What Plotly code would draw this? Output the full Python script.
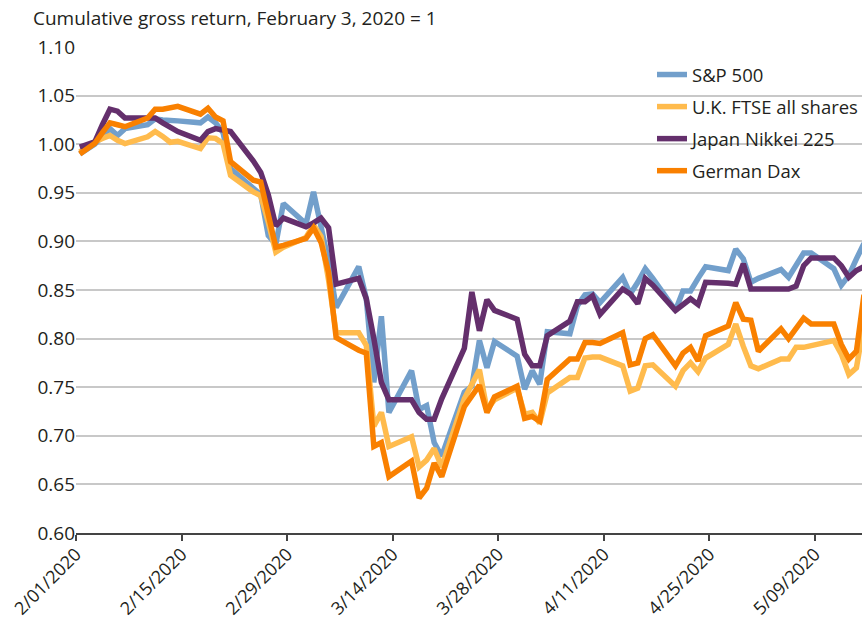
import pandas as pd
import plotly.graph_objects as go

dates = [
    "2020-02-01",
    "2020-02-03", "2020-02-04", "2020-02-05", "2020-02-06", "2020-02-07",
    "2020-02-10", "2020-02-11", "2020-02-12", "2020-02-13", "2020-02-14",
    "2020-02-17", "2020-02-18", "2020-02-19", "2020-02-20", "2020-02-21",
    "2020-02-24", "2020-02-25", "2020-02-26", "2020-02-27", "2020-02-28",
    "2020-03-02", "2020-03-03", "2020-03-04", "2020-03-05", "2020-03-06",
    "2020-03-09", "2020-03-10", "2020-03-11", "2020-03-12", "2020-03-13",
    "2020-03-16", "2020-03-17", "2020-03-18", "2020-03-19", "2020-03-20",
    "2020-03-23", "2020-03-24", "2020-03-25", "2020-03-26", "2020-03-27",
    "2020-03-30", "2020-03-31",
    "2020-04-01", "2020-04-02", "2020-04-03",
    "2020-04-06", "2020-04-07", "2020-04-08", "2020-04-09", "2020-04-10",
    "2020-04-13", "2020-04-14", "2020-04-15", "2020-04-16", "2020-04-17",
    "2020-04-20", "2020-04-21", "2020-04-22", "2020-04-23", "2020-04-24",
    "2020-04-27", "2020-04-28", "2020-04-29", "2020-04-30",
    "2020-05-01",
    "2020-05-04", "2020-05-05", "2020-05-06", "2020-05-07", "2020-05-08",
    "2020-05-11", "2020-05-12", "2020-05-13", "2020-05-14", "2020-05-15",
]

sp500 = [
    0.990, 1.000, 1.008, 1.016, 1.009, 1.016, 1.020, 1.026, 1.025, 1.025, 1.024,
    1.022, 1.028, 1.022, 1.012, 0.975, 0.955, 0.948, 0.906, 0.897, 0.939,
    0.918, 0.951, 0.916, 0.879, 0.832, 0.874, 0.841, 0.755, 0.823, 0.724,
    0.767, 0.727, 0.731, 0.693, 0.679, 0.745, 0.751, 0.798, 0.770, 0.797,
    0.782, 0.748,
    0.767, 0.753, 0.807, 0.805, 0.834, 0.845, 0.846, 0.837, 0.863, 0.846,
    0.858, 0.872, 0.862, 0.829, 0.849, 0.849, 0.862, 0.874, 0.870, 0.892,
    0.882, 0.858,
    0.862, 0.871, 0.863, 0.876, 0.888, 0.888, 0.872, 0.855, 0.865, 0.882, 0.898,
]

ftse = [
    0.992, 1.0025, 1.006, 1.009, 1.004, 1.0007, 1.0076, 1.013, 1.008, 1.002, 1.003,
    0.9955, 1.0066, 1.006, 1.0007, 0.968, 0.951, 0.947, 0.920, 0.889, 0.894,
    0.904, 0.917, 0.905, 0.860, 0.806, 0.806, 0.793, 0.710, 0.724, 0.689,
    0.699, 0.668, 0.675, 0.687, 0.668, 0.738, 0.752, 0.768, 0.727, 0.737,
    0.749, 0.722,
    0.724, 0.713, 0.744, 0.760, 0.760, 0.780, 0.781, 0.781, 0.772, 0.746,
    0.749, 0.772, 0.773, 0.751, 0.767, 0.775, 0.766, 0.780, 0.794, 0.815,
    0.792, 0.772,
    0.769, 0.779, 0.779, 0.791, 0.791, 0.793, 0.798, 0.784, 0.763, 0.770, 0.815,
]

nikkei = [
    0.997, 1.0025, 1.020, 1.036, 1.034, 1.027, 1.027, 1.027, 1.022, 1.017, 1.013,
    1.004, 1.013, 1.016, 1.014, 1.013, 0.983, 0.971, 0.948, 0.916, 0.924,
    0.915, 0.919, 0.924, 0.914, 0.856, 0.862, 0.841, 0.800, 0.755, 0.737,
    0.737, 0.724, 0.717, 0.717, 0.738, 0.790, 0.848, 0.808, 0.840, 0.829,
    0.820, 0.784,
    0.772, 0.772, 0.803, 0.818, 0.838, 0.838, 0.844, 0.825, 0.851, 0.846,
    0.836, 0.862, 0.855, 0.829, 0.835, 0.841, 0.835, 0.858, 0.857, 0.856,
    0.877, 0.851,
    0.851, 0.851, 0.851, 0.854, 0.875, 0.883, 0.883, 0.875, 0.863, 0.870, 0.874,
]

dax = [
    0.990, 1.001, 1.012, 1.022, 1.020, 1.018, 1.027, 1.036, 1.036, 1.037, 1.039,
    1.031, 1.037, 1.028, 1.024, 0.982, 0.963, 0.961, 0.930, 0.894, 0.896,
    0.903, 0.914, 0.899, 0.868, 0.801, 0.788, 0.785, 0.689, 0.693, 0.658,
    0.674, 0.636, 0.646, 0.672, 0.658, 0.730, 0.742, 0.752, 0.724, 0.740,
    0.751, 0.718,
    0.720, 0.715, 0.758, 0.779, 0.779, 0.796, 0.796, 0.795, 0.806, 0.773,
    0.775, 0.800, 0.804, 0.772, 0.785, 0.791, 0.777, 0.803, 0.813, 0.837,
    0.820, 0.819,
    0.787, 0.810, 0.800, 0.810, 0.821, 0.815, 0.815, 0.794, 0.779, 0.787, 0.845,
]

series_names = ["S&P 500", "U.K. FTSE all shares", "Japan Nikkei 225", "German Dax"]
series_values = [sp500, ftse, nikkei, dax]
series_colors = ["#729fcb", "#ffbb4d", "#642f6c", "#f98000"]

tick_dates = ["2020-02-01", "2020-02-15", "2020-02-29", "2020-03-14",
              "2020-03-28", "2020-04-11", "2020-04-25", "2020-05-09"]
tick_labels = ["2/01/2020", "2/15/2020", "2/29/2020", "3/14/2020",
               "3/28/2020", "4/11/2020", "4/25/2020", "5/09/2020"]

y_ticks = [0.60, 0.65, 0.70, 0.75, 0.80, 0.85, 0.90, 0.95, 1.00, 1.05, 1.10]

# points sit in the middle of each day slot
x = pd.to_datetime(dates) + pd.Timedelta(hours=12)

FONT = "Open Sans, Noto Sans, sans-serif"
TXT = "#231f20"

fig = go.Figure()
for i, (name, vals, col) in enumerate(zip(series_names, series_values, series_colors)):
    fig.add_trace(go.Scatter(
        x=x, y=vals, name=name, mode="lines",
        line=dict(color=col, width=5.5),
        legendgroup=f"g{i}",
    ))

fig.update_layout(
    width=862, height=619,
    margin=dict(l=76, r=0, t=47, b=86, autoexpand=False),
    paper_bgcolor="white", plot_bgcolor="white",
    font=dict(family=FONT, size=18, color=TXT),
    title=dict(
        text="Cumulative gross return, February 3, 2020 = 1",
        x=33 / 862, xanchor="left", xref="container",
        y=1 - 18 / 619, yanchor="middle", yref="container",
        pad=dict(l=0, r=0, t=0, b=0),
        font=dict(family=FONT, size=19, color=TXT),
    ),
    showlegend=True,
    legend=dict(
        x=(652 - 76) / 786, xanchor="left",
        y=1 - (56 - 47) / 486, yanchor="top",
        bgcolor="rgba(0,0,0,0)",
        font=dict(family=FONT, size=18.5, color=TXT),
        traceorder="grouped", tracegroupgap=5,
        itemwidth=30,
    ),
    xaxis=dict(
        type="date", automargin=False,
        range=[pd.Timestamp("2020-02-01"), pd.Timestamp("2020-02-01") + pd.Timedelta(days=104.24)],
        tickvals=pd.to_datetime(tick_dates), ticktext=tick_labels,
        tickangle=-45,
        ticks="outside", ticklen=6, tickwidth=1.5, tickcolor="#444",
        ticklabelstandoff=-4,
        showline=True, linecolor="#444", linewidth=1.5,
        showgrid=False, zeroline=False,
        tickfont=dict(family=FONT, size=18, color=TXT),
    ),
    yaxis=dict(
        range=[0.60, 1.10], automargin=False,
        tickvals=y_ticks, tickformat=".2f",
        showgrid=True, gridcolor="#c8c8c8", gridwidth=1.5,
        zeroline=False, showline=False, ticks="",
        tickfont=dict(family=FONT, size=19, color=TXT),
    ),
)

fig.write_html(
    "out.html",
    config={"displayModeBar": False},
    post_script="document.body.style.margin='0';document.body.style.overflow='hidden';",
)
